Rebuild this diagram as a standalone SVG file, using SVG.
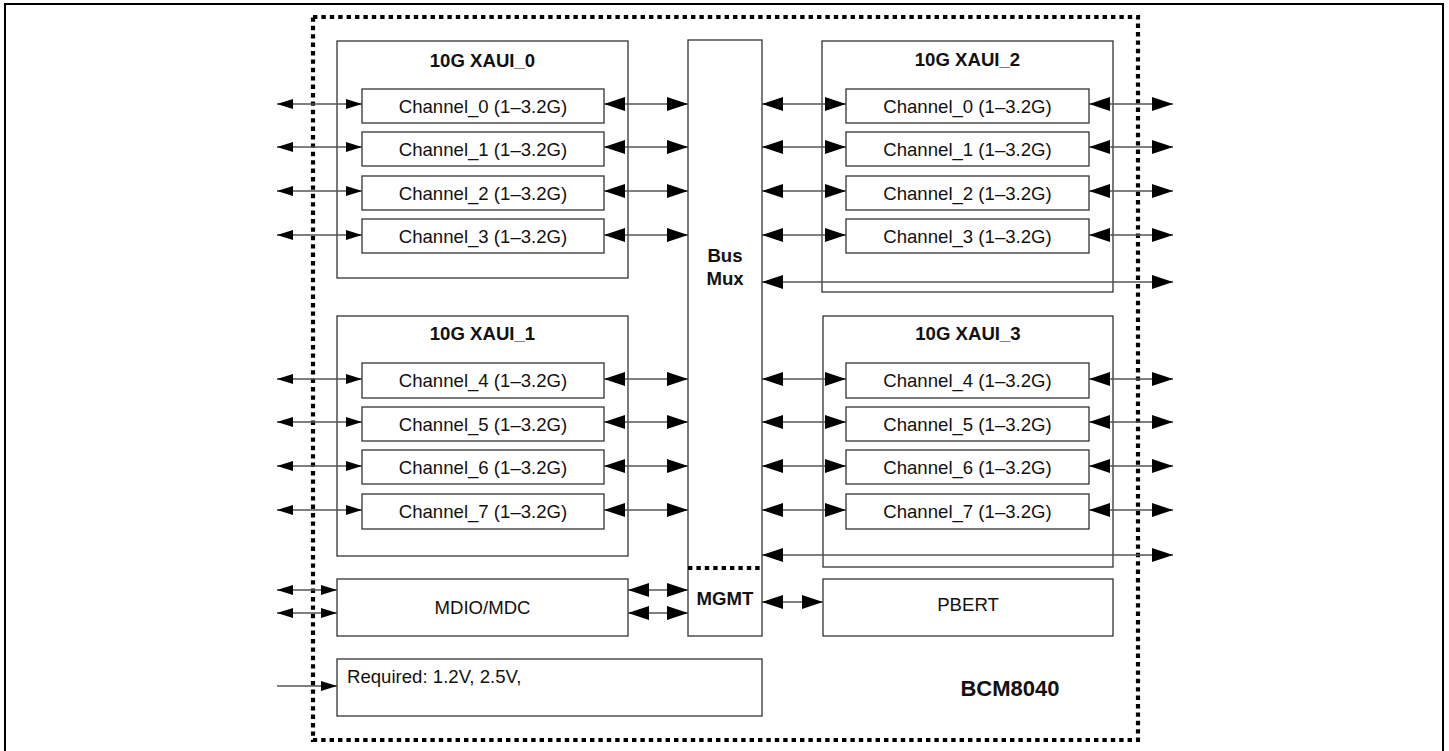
<svg xmlns="http://www.w3.org/2000/svg" width="1449" height="751" viewBox="0 0 1449 751">
<style>
.box{fill:#fff;stroke:#333;stroke-width:1.3}
.frame{fill:none;stroke:#000;stroke-width:2}
.dot{fill:none;stroke:#000;stroke-width:4.2;stroke-dasharray:4.4 4}
.t{font-family:"Liberation Sans",Arial,sans-serif;font-size:18.6px;fill:#111;text-anchor:middle}
.b{font-weight:bold}
.ln{stroke:#555;stroke-width:1.3;fill:none}
.bb{marker-start:url(#bigH);marker-end:url(#bigH)}
.ss{marker-start:url(#smallH);marker-end:url(#smallH)}
.se{marker-end:url(#smallH)}
</style>
<defs>
<marker id="bigH" markerUnits="userSpaceOnUse" markerWidth="22" markerHeight="14" refX="21" refY="7" orient="auto-start-reverse"><path d="M0,0 L21,7 L0,14 z" fill="#000"/></marker>
<marker id="smallH" markerUnits="userSpaceOnUse" markerWidth="16" markerHeight="10" refX="16" refY="5" orient="auto-start-reverse"><path d="M0,0 L16,5 L0,10 z" fill="#000"/></marker>
</defs>
<rect x="0" y="0" width="1449" height="751" fill="#fff"/>
<rect class="frame" x="5" y="4" width="1438" height="770"/>
<rect id="chip" class="dot" x="313" y="17" width="825" height="723"/>

<g id="xaui0">
<rect class="box" x="337" y="41" width="291" height="237"/>
<text class="t b" x="482.5" y="67">10G XAUI_0</text>
</g>
<g id="ch0L"><rect class="box" x="362" y="89" width="242" height="34"/><text class="t" x="483" y="112.5">Channel_0 (1–3.2G)</text></g>
<g id="ch1L"><rect class="box" x="362" y="132" width="242" height="34"/><text class="t" x="483" y="155.5">Channel_1 (1–3.2G)</text></g>
<g id="ch2L"><rect class="box" x="362" y="176" width="242" height="34"/><text class="t" x="483" y="199.5">Channel_2 (1–3.2G)</text></g>
<g id="ch3L"><rect class="box" x="362" y="219" width="242" height="34"/><text class="t" x="483" y="242.5">Channel_3 (1–3.2G)</text></g>

<g id="xaui1">
<rect class="box" x="337" y="316" width="291" height="240"/>
<text class="t b" x="482.5" y="340">10G XAUI_1</text>
</g>
<g id="ch4L"><rect class="box" x="362" y="363" width="242" height="35"/><text class="t" x="483" y="387">Channel_4 (1–3.2G)</text></g>
<g id="ch5L"><rect class="box" x="362" y="407" width="242" height="34"/><text class="t" x="483" y="430.5">Channel_5 (1–3.2G)</text></g>
<g id="ch6L"><rect class="box" x="362" y="450" width="242" height="34"/><text class="t" x="483" y="473.5">Channel_6 (1–3.2G)</text></g>
<g id="ch7L"><rect class="box" x="362" y="494" width="242" height="35"/><text class="t" x="483" y="518">Channel_7 (1–3.2G)</text></g>

<g id="xaui2">
<rect class="box" x="822" y="41" width="291" height="251"/>
<text class="t b" x="967.5" y="66">10G XAUI_2</text>
</g>
<g id="ch0R"><rect class="box" x="846" y="89" width="243" height="34"/><text class="t" x="967.5" y="112.5">Channel_0 (1–3.2G)</text></g>
<g id="ch1R"><rect class="box" x="846" y="132" width="243" height="34"/><text class="t" x="967.5" y="155.5">Channel_1 (1–3.2G)</text></g>
<g id="ch2R"><rect class="box" x="846" y="176" width="243" height="34"/><text class="t" x="967.5" y="199.5">Channel_2 (1–3.2G)</text></g>
<g id="ch3R"><rect class="box" x="846" y="219" width="243" height="34"/><text class="t" x="967.5" y="242.5">Channel_3 (1–3.2G)</text></g>

<g id="xaui3">
<rect class="box" x="823" y="316" width="290" height="251"/>
<text class="t b" x="968" y="340">10G XAUI_3</text>
</g>
<g id="ch4R"><rect class="box" x="846" y="363" width="243" height="35"/><text class="t" x="967.5" y="387">Channel_4 (1–3.2G)</text></g>
<g id="ch5R"><rect class="box" x="846" y="407" width="243" height="34"/><text class="t" x="967.5" y="430.5">Channel_5 (1–3.2G)</text></g>
<g id="ch6R"><rect class="box" x="846" y="450" width="243" height="34"/><text class="t" x="967.5" y="473.5">Channel_6 (1–3.2G)</text></g>
<g id="ch7R"><rect class="box" x="846" y="494" width="243" height="35"/><text class="t" x="967.5" y="518">Channel_7 (1–3.2G)</text></g>

<g id="busmux">
<rect class="box" x="688" y="40" width="74" height="596"/>
<text class="t b" x="725" y="262">Bus</text>
<text class="t b" x="725" y="285">Mux</text>
<line class="dot" x1="688" y1="568" x2="762" y2="568"/>
<text class="t b" x="725" y="605">MGMT</text>
</g>

<g id="mdio"><rect class="box" x="337" y="579" width="291" height="57"/><text class="t" x="482.5" y="614">MDIO/MDC</text></g>
<g id="pbert"><rect class="box" x="823" y="579" width="290" height="57"/><text class="t" x="968" y="611">PBERT</text></g>
<g id="power"><rect class="box" x="337" y="659" width="425" height="57"/><text class="t" x="347" y="683" style="text-anchor:start">Required: 1.2V, 2.5V,</text></g>
<g id="label"><text class="t b" x="1010" y="696" style="font-size:22px">BCM8040</text></g>

<g id="connectors">
<line class="ln ss" x1="277" y1="104" x2="362" y2="104"/>
<line class="ln ss" x1="277" y1="147" x2="362" y2="147"/>
<line class="ln ss" x1="277" y1="191" x2="362" y2="191"/>
<line class="ln ss" x1="277" y1="235" x2="362" y2="235"/>
<line class="ln ss" x1="277" y1="379" x2="362" y2="379"/>
<line class="ln ss" x1="277" y1="422" x2="362" y2="422"/>
<line class="ln ss" x1="277" y1="466" x2="362" y2="466"/>
<line class="ln ss" x1="277" y1="510" x2="362" y2="510"/>
<line class="ln bb" x1="604" y1="104" x2="688" y2="104"/>
<line class="ln bb" x1="604" y1="147" x2="688" y2="147"/>
<line class="ln bb" x1="604" y1="191" x2="688" y2="191"/>
<line class="ln bb" x1="604" y1="235" x2="688" y2="235"/>
<line class="ln bb" x1="604" y1="379" x2="688" y2="379"/>
<line class="ln bb" x1="604" y1="422" x2="688" y2="422"/>
<line class="ln bb" x1="604" y1="466" x2="688" y2="466"/>
<line class="ln bb" x1="604" y1="510" x2="688" y2="510"/>
<line class="ln bb" x1="762" y1="104" x2="846" y2="104"/>
<line class="ln bb" x1="762" y1="147" x2="846" y2="147"/>
<line class="ln bb" x1="762" y1="191" x2="846" y2="191"/>
<line class="ln bb" x1="762" y1="235" x2="846" y2="235"/>
<line class="ln bb" x1="762" y1="379" x2="846" y2="379"/>
<line class="ln bb" x1="762" y1="422" x2="846" y2="422"/>
<line class="ln bb" x1="762" y1="466" x2="846" y2="466"/>
<line class="ln bb" x1="762" y1="510" x2="846" y2="510"/>
<line class="ln bb" x1="1089" y1="104" x2="1173" y2="104"/>
<line class="ln bb" x1="1089" y1="147" x2="1173" y2="147"/>
<line class="ln bb" x1="1089" y1="191" x2="1173" y2="191"/>
<line class="ln bb" x1="1089" y1="235" x2="1173" y2="235"/>
<line class="ln bb" x1="1089" y1="379" x2="1173" y2="379"/>
<line class="ln bb" x1="1089" y1="422" x2="1173" y2="422"/>
<line class="ln bb" x1="1089" y1="466" x2="1173" y2="466"/>
<line class="ln bb" x1="1089" y1="510" x2="1173" y2="510"/>
<line class="ln bb" x1="762" y1="282" x2="1173" y2="282"/>
<line class="ln bb" x1="762" y1="555" x2="1173" y2="555"/>
<line class="ln ss" x1="277" y1="590" x2="337" y2="590"/>
<line class="ln ss" x1="277" y1="613" x2="337" y2="613"/>
<line class="ln bb" x1="628" y1="590" x2="688" y2="590"/>
<line class="ln bb" x1="628" y1="613" x2="688" y2="613"/>
<line class="ln bb" x1="762" y1="602" x2="823" y2="602"/>
<line class="ln se" x1="277" y1="686" x2="337" y2="686"/>
</g>
</svg>
